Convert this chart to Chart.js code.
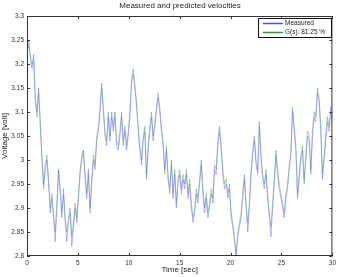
<!DOCTYPE html>
<html lang="en">
<head>
  <meta charset="UTF-8">
  <title>Measured and predicted velocities</title>
  <script src="https://cdn.jsdelivr.net/npm/chart.js"></script>
  <style>
    html, body { margin: 0; padding: 0; background: #fff; }
    #wrap { width: 339px; height: 277px; }
  </style>
</head>
<body>
  <div id="wrap"><canvas id="velChart" width="339" height="277"></canvas></div>

  <script>
    // values, one sample every ~0.163 s
    const measured = [
      3.22,3.25,3.21,3.19,3.22,3.12,3.10,3.15,3.07,3.00,
      2.94,2.98,3.00,2.95,2.89,2.92,2.88,2.83,2.90,2.98,
      2.93,2.88,2.94,2.87,2.83,2.87,2.89,2.82,2.86,2.90,
      2.87,2.92,2.97,3.00,3.02,2.96,2.92,2.98,2.89,2.95,
      3.00,2.98,3.04,3.06,3.10,3.15,3.10,3.05,3.03,3.09,
      3.04,3.10,3.06,3.10,3.03,3.02,3.05,3.09,3.03,3.07,
      3.02,3.05,3.09,3.16,3.18,3.15,3.12,3.06,3.02,2.99,
      3.04,3.06,2.96,3.02,3.06,3.09,3.04,3.07,3.10,3.13,
      3.10,3.06,3.03,2.98,3.02,2.96,2.94,2.99,2.92,2.97,
      2.90,2.95,2.97,2.93,2.96,2.94,2.97,2.92,2.95,2.90,
      2.87,2.89,2.93,2.91,2.95,2.99,2.93,2.89,2.92,2.88,
      2.90,2.93,2.91,2.98,2.97,3.03,3.07,3.02,2.97,2.94,
      2.95,2.92,2.94,2.88,2.86,2.83,2.80,2.84,2.86,2.88,
      2.92,2.96,2.90,2.85,2.90,2.97,3.01,3.04,2.99,2.97,
      3.07,3.00,2.96,2.94,2.97,2.92,2.88,2.84,2.90,2.95,
      3.01,2.97,2.94,2.92,2.90,2.88,2.92,2.94,2.98,3.01,
      3.10,3.06,3.02,2.92,2.96,3.00,3.02,2.95,3.00,3.05,
      3.04,2.97,3.05,3.09,3.08,3.14,3.12,3.06,2.96,3.00,
      3.04,3.08,3.06,3.11,3.08
    ];
    const predicted = [
      3.23,3.24,3.22,3.20,3.21,3.13,3.09,3.14,3.08,3.01,
      2.95,2.99,3.01,2.96,2.90,2.93,2.89,2.85,2.91,2.98,
      2.94,2.89,2.93,2.88,2.85,2.88,2.90,2.84,2.87,2.91,
      2.88,2.93,2.98,3.01,3.02,2.97,2.93,2.97,2.90,2.96,
      3.01,2.99,3.05,3.07,3.11,3.16,3.11,3.06,3.04,3.10,
      3.05,3.09,3.07,3.09,3.04,3.03,3.06,3.10,3.04,3.06,
      3.03,3.06,3.10,3.17,3.19,3.16,3.11,3.07,3.03,3.00,
      3.05,3.07,2.97,3.03,3.07,3.10,3.05,3.08,3.11,3.14,
      3.11,3.07,3.04,2.97,3.03,2.97,2.93,3.00,2.93,2.98,
      2.91,2.96,2.98,2.94,2.97,2.95,2.98,2.93,2.96,2.91,
      2.88,2.90,2.94,2.92,2.96,3.00,2.94,2.90,2.93,2.89,
      2.91,2.94,2.92,2.99,2.98,3.04,3.06,3.03,2.98,2.95,
      2.96,2.93,2.95,2.89,2.87,2.84,2.80,2.85,2.87,2.89,
      2.93,2.97,2.91,2.87,2.91,2.98,3.02,3.05,3.00,2.98,
      3.08,3.01,2.97,2.95,2.98,2.93,2.89,2.86,2.91,2.96,
      3.02,2.98,2.95,2.93,2.91,2.89,2.93,2.95,2.99,3.02,
      3.11,3.07,3.03,2.93,2.97,3.01,3.03,2.96,3.01,3.06,
      3.05,2.98,3.06,3.10,3.09,3.15,3.13,3.07,2.97,3.01,
      3.05,3.09,3.07,3.10,3.09
    ];
    const seriesNames = ['Measured', 'G(s): 81.25 %'];
    const xTicks = [0, 5, 10, 15, 20, 25, 30];
    const yTicks = [2.8, 2.85, 2.9, 2.95, 3, 3.05, 3.1, 3.15, 3.2, 3.25, 3.3];

    // uniform sampling over 0..30 s
    const times = measured.map((_, i) => i * 30 / (measured.length - 1));
    const toPoints = arr => arr.map((v, i) => ({ x: times[i], y: v }));

    const FONT = 'Liberation Sans, Arial, sans-serif';

    // MATLAB style box, inward ticks, title and legend
    const matlabFrame = {
      id: 'matlabFrame',
      afterDraw(chart) {
        const { ctx, chartArea: a, scales } = chart;
        ctx.save();
        ctx.strokeStyle = '#333';
        ctx.lineWidth = 1;
        ctx.strokeRect(a.left + 0.5, a.top + 0.5, a.right - a.left - 1, a.bottom - a.top - 1);
        ctx.beginPath();
        xTicks.forEach(t => {
          const px = Math.round(scales.x.getPixelForValue(t)) + 0.5;
          ctx.moveTo(px, a.bottom); ctx.lineTo(px, a.bottom - 3);
          ctx.moveTo(px, a.top); ctx.lineTo(px, a.top + 3);
        });
        yTicks.forEach(t => {
          const py = Math.round(scales.y.getPixelForValue(t)) + 0.5;
          ctx.moveTo(a.left, py); ctx.lineTo(a.left + 3, py);
          ctx.moveTo(a.right, py); ctx.lineTo(a.right - 3, py);
        });
        ctx.stroke();

        // title
        ctx.fillStyle = '#222';
        ctx.font = '8px ' + FONT;
        ctx.textAlign = 'center';
        ctx.textBaseline = 'middle';
        ctx.fillText('Measured and predicted velocities', 180, 6);

        // legend
        const lx = 258, ly = 18, lw = 74, lh = 20;
        ctx.fillStyle = '#fff';
        ctx.fillRect(lx, ly, lw, lh);
        ctx.strokeStyle = '#111';
        ctx.strokeRect(lx + 0.5, ly + 0.5, lw - 1, lh - 1);
        ctx.font = '6.5px ' + FONT;
        ctx.textAlign = 'left';
        chart.data.datasets.forEach((ds, i) => {
          const yy = ly + 5.5 + i * 9;
          ctx.strokeStyle = ds.legendColor;
          ctx.lineWidth = 1.5;
          ctx.beginPath();
          ctx.moveTo(lx + 5, yy); ctx.lineTo(lx + 25, yy);
          ctx.stroke();
          ctx.fillStyle = '#222';
          ctx.fillText(ds.label, lx + 27, yy);
        });
        ctx.restore();
      }
    };

    new Chart(document.getElementById('velChart'), {
      type: 'line',
      data: {
        datasets: [
          {
            label: seriesNames[0],
            data: toPoints(measured),
            borderColor: 'rgba(110, 110, 255, 0.5)',
            legendColor: '#4b4bff',
            borderWidth: 1,
            pointRadius: 0,
            tension: 0
          },
          {
            label: seriesNames[1],
            data: toPoints(predicted),
            borderColor: 'rgba(30, 125, 30, 0.35)',
            legendColor: '#2e9a2e',
            borderWidth: 1,
            pointRadius: 0,
            tension: 0
          }
        ]
      },
      options: {
        responsive: false,
        animation: false,
        layout: { padding: { top: 16, right: 6, left: 0, bottom: 0 } },
        plugins: {
          legend: { display: false },
          title: { display: false },
          tooltip: { enabled: false }
        },
        scales: {
          x: {
            type: 'linear',
            min: 0,
            max: 30,
            afterFit: s => { s.height = 21; },
            afterBuildTicks: s => { s.ticks = xTicks.map(v => ({ value: v })); },
            grid: { display: false, drawTicks: false },
            border: { display: false },
            ticks: { color: '#333', font: { size: 6.5, family: FONT }, padding: 3, maxRotation: 0 },
            title: { display: true, text: 'Time [sec]', color: '#222', font: { size: 8, family: FONT }, padding: { top: 0, bottom: 2 } }
          },
          y: {
            min: 2.8,
            max: 3.3,
            afterFit: s => { s.width = 27; },
            afterBuildTicks: s => { s.ticks = yTicks.map(v => ({ value: v })); },
            grid: { display: false, drawTicks: false },
            border: { display: false },
            ticks: {
              color: '#333',
              font: { size: 6.5, family: FONT },
              padding: 3,
              callback: v => String(Number(v.toFixed(2)))
            },
            title: { display: true, text: 'Voltage [volt]', color: '#222', font: { size: 8, family: FONT }, padding: { top: 0, bottom: 2 } }
          }
        }
      },
      plugins: [matlabFrame]
    });
  </script>
</body>
</html>
